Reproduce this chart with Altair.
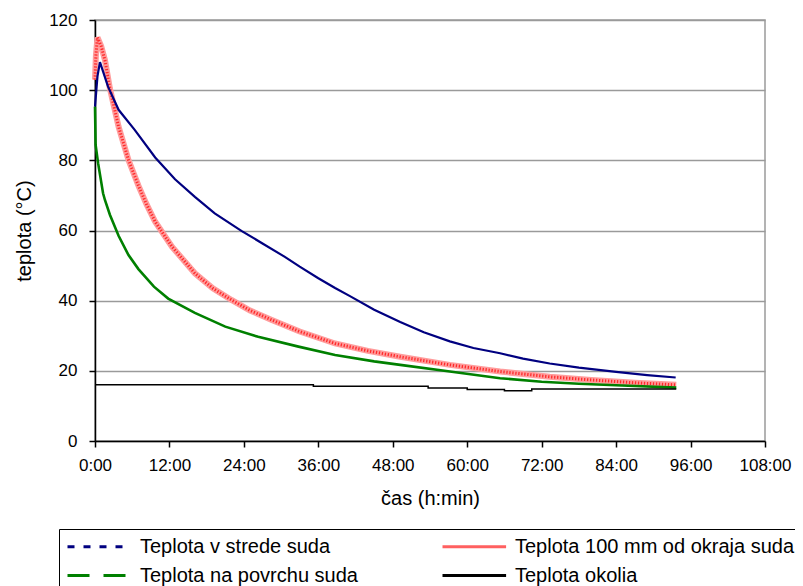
import altair as alt
import pandas as pd

# ---- data (time in hours, temperature in °C) ----
center_t = [0, 0.4, 0.8, 2.1, 3.8, 6.4, 9.7, 12.9, 16.1, 19.3, 23.6, 27.0, 30.6, 33.0, 36.0,
            38.7, 41.1, 45.0, 49.2, 53.0, 57.2, 61.0, 65.3, 69.0, 73.3, 78.0, 84.0, 89.0, 93.6]
center_T = [95.3, 104, 108, 101, 94.4, 88.7, 80.8, 74.6, 69.6, 64.9, 59.9, 56.3, 52.5, 49.7, 46.4,
            43.6, 41.3, 37.4, 33.9, 31.0, 28.4, 26.5, 25.0, 23.5, 22.1, 20.9, 19.7, 18.8, 18.1]

edge_t = [0, 0.15, 0.4, 1.0, 1.6, 2.4, 3.8, 5.4, 7.0, 8.3, 9.7, 12.4, 16.1, 19.0, 22.0, 25.0,
          28.5, 33.0, 38.7, 44.0, 49.2, 57.2, 65.3, 73.3, 80.0, 87.0, 93.7]
edge_T = [103, 110, 115, 112.5, 108.6, 100.5, 89.6, 80.1, 72.8, 67.5, 62.5, 55.4, 47.8, 43.5, 40.2, 37.2,
          34.5, 31.2, 27.8, 25.7, 24.0, 21.7, 19.8, 18.3, 17.4, 16.6, 16.0]

surface_t = [0, 0.1, 0.5, 1.3, 1.6, 2.4, 3.8, 5.4, 7.0, 9.5, 11.8, 16.1, 21.0, 26.3, 32.8, 38.7,
             45.0, 49.2, 57.2, 65.3, 72.0, 78.0, 85.0, 93.7]
surface_T = [95.3, 84.4, 79.2, 70.6, 68.7, 64.5, 58.5, 53.0, 49.0, 44.0, 40.6, 36.5, 32.6, 29.7, 26.9, 24.5,
             22.7, 21.7, 19.8, 17.9, 16.9, 16.3, 15.8, 15.2]

ambient_t = [0, 35.2, 53.7, 60.0, 66.0, 70.4, 93.7]
ambient_T = [16.0, 15.6, 15.1, 14.7, 14.3, 14.8, 14.8]

# legend order (Vega fills the two legend columns top to bottom)
series_names = ["Teplota v strede suda", "Teplota na povrchu suda",
                "Teplota 100 mm od okraja suda", "Teplota okolia"]
series_colors = ["#000080", "#008000", "#ff6060", "#000000"]
series_dashes = [[7, 9], [22, 14], [1, 0], [1, 0]]
x_ticks = [0, 12, 24, 36, 48, 60, 72, 84, 96, 108]
y_ticks = [0, 20, 40, 60, 80, 100, 120]

FONT = "Liberation Sans"

def frame(t, v, name):
    return pd.DataFrame({"t": t, "T": v, "s": name})

center_df = frame(center_t, center_T, "Teplota v strede suda")
edge_df = frame(edge_t, edge_T, "Teplota 100 mm od okraja suda")
surface_df = frame(surface_t, surface_T, "Teplota na povrchu suda")
ambient_df = frame(ambient_t, ambient_T, "Teplota okolia")
all_df = pd.concat([center_df, edge_df, surface_df, ambient_df], ignore_index=True)

x_enc = alt.X("t:Q", scale=alt.Scale(domain=[0, 108], nice=False),
              axis=alt.Axis(values=x_ticks, labelExpr="datum.value + ':00'", grid=False,
                            labelFlush=False, labelOverlap=False,
                            domainColor="black", domainWidth=1.5, tickColor="black", tickWidth=1.5,
                            tickSize=6, labelFontSize=17, labelPadding=10, labelColor="black",
                            labelFont=FONT, title="čas (h:min)", titleFont=FONT, titleFontSize=20,
                            titleFontWeight="normal", titleColor="black", titleY=57,
                            titleBaseline="middle"))
y_enc = alt.Y("T:Q", scale=alt.Scale(domain=[0, 120], nice=False),
              axis=alt.Axis(values=y_ticks, grid=True, gridColor="#9a9a9a", gridWidth=1.5,
                            labelFlush=False, labelOverlap=False,
                            domainColor="black", domainWidth=1.5, tickColor="black", tickWidth=1.5,
                            tickSize=6, labelFontSize=17, labelPadding=12, labelColor="black",
                            labelFont=FONT, title="teplota (°C)", titleFont=FONT, titleFontSize=20,
                            titleFontWeight="normal", titleColor="black", titleX=-71,
                            titleBaseline="middle"))

edge_base = alt.Chart(edge_df).mark_line(color="#ff9c9c", strokeWidth=6).encode(x=x_enc, y=y_enc)
edge_top = alt.Chart(edge_df).mark_line(color="#ff2a2a", strokeWidth=3, strokeDash=[1.3, 1.7]).encode(x="t:Q", y="T:Q")
center_line = alt.Chart(center_df).mark_line(color="#000080", strokeWidth=2.2).encode(x="t:Q", y="T:Q")
surface_line = alt.Chart(surface_df).mark_line(color="#008000", strokeWidth=2.6).encode(x="t:Q", y="T:Q")
ambient_line = alt.Chart(ambient_df).mark_line(color="#000000", strokeWidth=1.5,
                                               interpolate="step-after").encode(x="t:Q", y="T:Q")

legend_layer = alt.Chart(all_df).transform_filter("datum.T < -999").mark_line().encode(
    x="t:Q", y="T:Q",
    color=alt.Color("s:N", scale=alt.Scale(domain=series_names, range=series_colors),
                    legend=alt.Legend(title=None, orient="none", legendX=-36, legendY=509,
                                      columns=2, direction="vertical", symbolType="M-0.75,0H4.55",
                                      symbolSize=576, symbolStrokeWidth=3, labelOffset=50,
                                      labelFontSize=20, labelFont=FONT, labelColor="black",
                                      labelLimit=400, rowPadding=5, columnPadding=78,
                                      padding=4, strokeColor="black", fillColor="white")),
    strokeDash=alt.StrokeDash("s:N", scale=alt.Scale(domain=series_names, range=series_dashes),
                              legend=alt.Legend(title=None, orient="none", legendX=-36, legendY=509,
                                                columns=2, direction="vertical")),
)

chart = alt.layer(edge_base, edge_top, center_line, surface_line, ambient_line, legend_layer).properties(
    width=670, height=421,
    autosize=alt.AutoSizeParams(type="none"),
    padding={"left": 87, "top": 12, "right": 30, "bottom": 148},
    background="white",
).configure_view(stroke="#9a9a9a", strokeWidth=1.5)

chart.save("out.html", embed_options={"renderer": "svg", "actions": False})
